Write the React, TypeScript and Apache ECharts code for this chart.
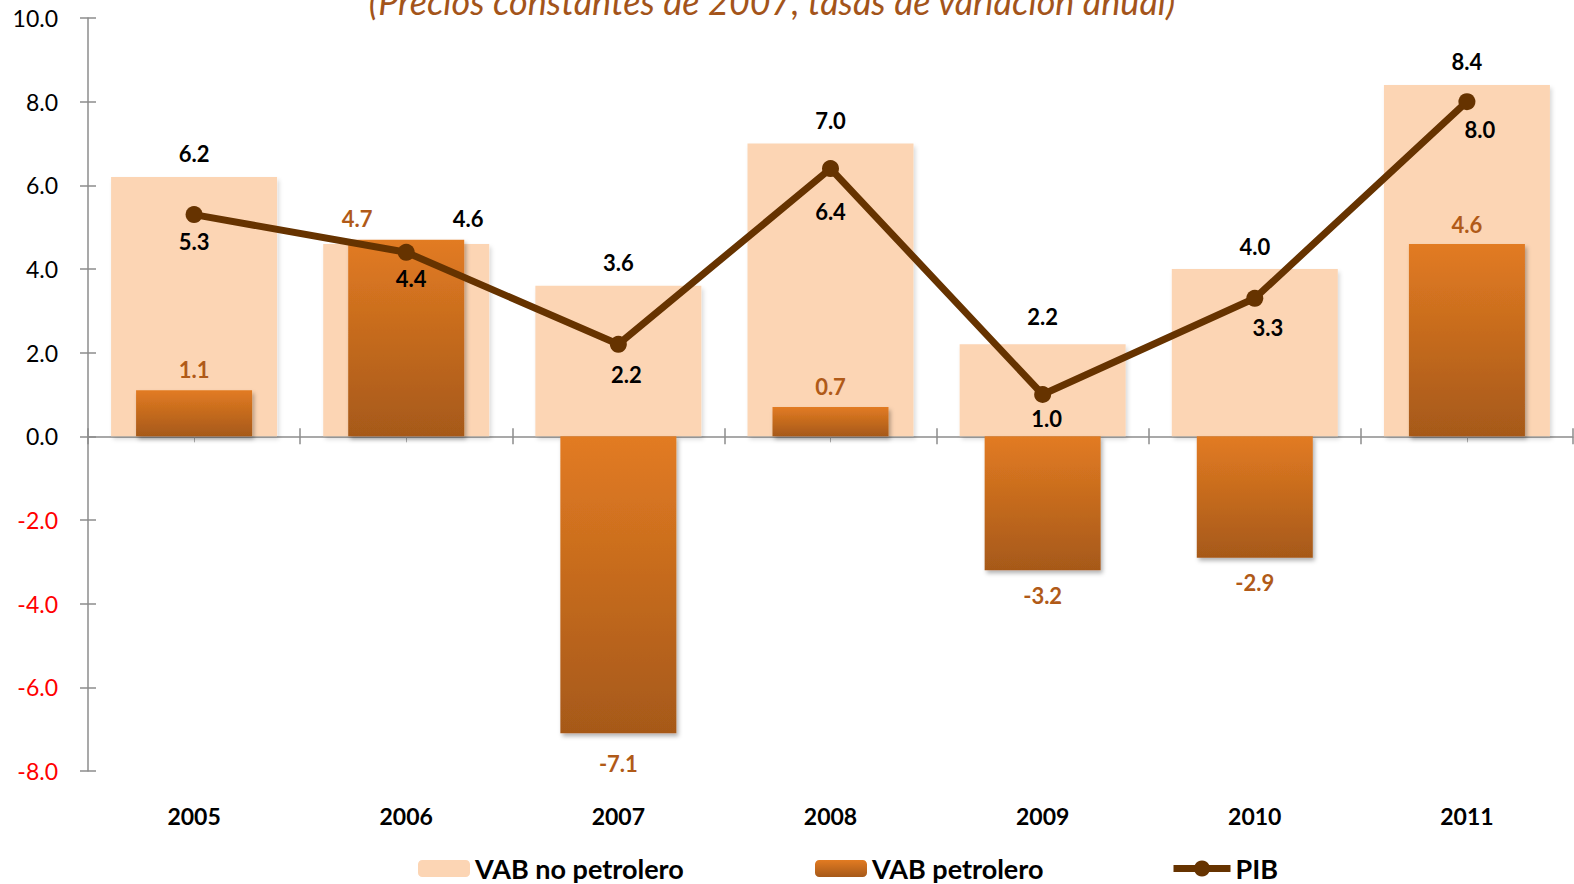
import React, { useEffect, useRef } from "react";
import * as echarts from "echarts";

const years = ["2005", "2006", "2007", "2008", "2009", "2010", "2011"];
const vabNoPetrolero = [6.2, 4.6, 3.6, 7.0, 2.2, 4.0, 8.4];
const vabPetrolero = [1.1, 4.7, -7.1, 0.7, -3.2, -2.9, 4.6];
const pib = [5.3, 4.4, 2.2, 6.4, 1.0, 3.3, 8.0];
const titleText = "(Precios constantes de 2007, tasas de variación anual)";

const FONT = "Lato";

export default function App() {
  const ref = useRef<HTMLDivElement>(null);
  useEffect(() => {
    if (!ref.current) return;
    const chart = echarts.init(ref.current, undefined, { renderer: "svg" });
    const grad = new echarts.graphic.LinearGradient(0, 0, 0, 1, [
      { offset: 0, color: "#E27B22" },
      { offset: 1, color: "#A65919" },
    ]);
    const axisGray = "#8C8C8C";
    const shadow = {
      shadowBlur: 4,
      shadowOffsetX: 2,
      shadowOffsetY: 3,
      shadowColor: "rgba(0,0,0,0.3)",
    };
    const baseX = {
      type: "category" as const,
      data: years,
      position: "bottom" as const,
      axisLabel: { show: false },
      splitLine: { show: false },
    };
    const legendText = { fontSize: 27, fontWeight: "bold", color: "#000", fontFamily: FONT };
    chart.setOption({
      animation: false,
      textStyle: { fontFamily: FONT },
      grid: { left: 88, right: 1, top: 18, bottom: 113, containLabel: false },
      graphic: [
        {
          type: "text",
          x: 772,
          y: 1,
          style: {
            text: titleText,
            fill: "#A3541A",
            font: `italic 36px ${FONT}`,
            textAlign: "center",
            textVerticalAlign: "middle",
          },
        },
      ],
      xAxis: [
        {
          ...baseX,
          axisLine: { show: true, onZero: true, onZeroAxisIndex: 0, lineStyle: { color: axisGray, width: 1.5 } },
          axisTick: { show: true, length: 8, lineStyle: { color: axisGray, width: 1.5 } },
        },
        {
          ...baseX,
          axisLine: { show: false, onZero: true, onZeroAxisIndex: 0 },
          axisTick: { show: true, inside: true, length: 8, lineStyle: { color: axisGray, width: 1.5 } },
        },
        {
          ...baseX,
          axisLine: { show: false, onZero: true, onZeroAxisIndex: 0 },
          axisTick: { show: true, alignWithLabel: true, length: 6, lineStyle: { color: "#B0B0B0", width: 1 } },
        },
        {
          type: "category",
          data: years,
          position: "bottom",
          axisLine: { show: false, onZero: false },
          axisTick: { show: false },
          axisLabel: {
            show: true,
            margin: 33,
            fontSize: 23,
            fontWeight: "bold",
            color: "#000",
            fontFamily: FONT,
          },
        },
      ],
      yAxis: [
        {
          type: "value",
          min: -8,
          max: 10,
          interval: 2,
          position: "left",
          axisLine: { show: true, lineStyle: { color: axisGray, width: 1.5 } },
          axisTick: { show: true, length: 8, lineStyle: { color: axisGray, width: 1.5 } },
          splitLine: { show: false },
          axisLabel: {
            margin: 30,
            fontSize: 23,
            fontFamily: FONT,
            formatter: (v: number) => v.toFixed(1),
            color: (v: any) => (Number(v) < 0 ? "#FF0000" : "#000000"),
          },
        },
        {
          type: "value",
          min: -8,
          max: 10,
          interval: 2,
          position: "left",
          axisLine: { show: false },
          axisTick: { show: true, inside: true, length: 8, lineStyle: { color: axisGray, width: 1.5 } },
          splitLine: { show: false },
          axisLabel: { show: false },
        },
      ],
      legend: [
        {
          data: ["VAB no petrolero"],
          left: 413,
          top: 850,
          itemWidth: 52,
          itemHeight: 17,
          itemGap: 6,
          textStyle: legendText,
        },
        {
          data: ["VAB petrolero"],
          left: 810,
          top: 850,
          itemWidth: 52,
          itemHeight: 17,
          textStyle: legendText,
        },
        {
          data: ["PIB"],
          left: 1165,
          top: 850,
          itemWidth: 57,
          itemHeight: 20,
          itemGap: 4,
          lineStyle: { width: 7, color: "#663300" },
          textStyle: legendText,
        },
      ],
      series: [
        {
          name: "VAB no petrolero",
          type: "bar",
          xAxisIndex: 1,
          yAxisIndex: 0,
          barWidth: 166,
          z: 1,
          itemStyle: { color: "#FCD5B4", ...shadow, shadowColor: "rgba(0,0,0,0.15)" },
          label: {
            show: true,
            position: "top",
            distance: 12,
            fontSize: 22,
            fontWeight: "bold",
            color: "#000",
            fontFamily: FONT,
            formatter: (p: any) => Number(p.value).toFixed(1),
          },
          data: vabNoPetrolero.map((v, i) => {
            if (i === 1) return { value: v, label: { offset: [62, -2] } };
            if (i === 4) return { value: v, label: { offset: [0, -5] } };
            return v;
          }),
        },
        {
          name: "VAB petrolero",
          type: "bar",
          xAxisIndex: 0,
          yAxisIndex: 0,
          barWidth: 116,
          z: 2,
          itemStyle: { color: grad, ...shadow },
          label: {
            show: true,
            fontSize: 22,
            fontWeight: "bold",
            color: "#B05A18",
            fontFamily: FONT,
            distance: 10,
            formatter: (p: any) => Number(p.value).toFixed(1),
          },
          data: vabPetrolero.map((v, i) => {
            const item: any = {
              value: v,
              label: v >= 0 ? { position: "top" } : { position: "bottom", distance: 14 },
            };
            if (i === 1) item.label.offset = [-49, 0];
            if (i === 2) item.label.offset = [0, 5];
            if (i === 6) item.label.offset = [0, 2];
            return item;
          }),
        },
        {
          name: "PIB",
          type: "line",
          xAxisIndex: 0,
          yAxisIndex: 0,
          z: 5,
          symbol: "circle",
          symbolSize: 17,
          color: "#663300",
          lineStyle: { color: "#663300", width: 7 },
          itemStyle: { color: "#663300" },
          label: {
            show: true,
            position: "bottom",
            distance: 7,
            fontSize: 22,
            fontWeight: "bold",
            color: "#000",
            fontFamily: FONT,
            formatter: (p: any) => Number(p.value).toFixed(1),
          },
          data: pib.map((v, i) => {
            if (i === 1) return { value: v, label: { offset: [5, 0] } };
            if (i === 2) return { value: v, label: { offset: [8, 4] } };
            if (i === 3) return { value: v, label: { offset: [0, 16] } };
            if (i === 4) return { value: v, label: { offset: [4, -3] } };
            if (i === 5) return { value: v, label: { offset: [13, 3] } };
            if (i === 6) return { value: v, label: { offset: [13, 1] } };
            return v;
          }),
        },
      ],
    });
    return () => chart.dispose();
  }, []);
  return <div ref={ref} style={{ width: 1574, height: 884, position: "absolute", left: 0, top: 0 }} />;
}
